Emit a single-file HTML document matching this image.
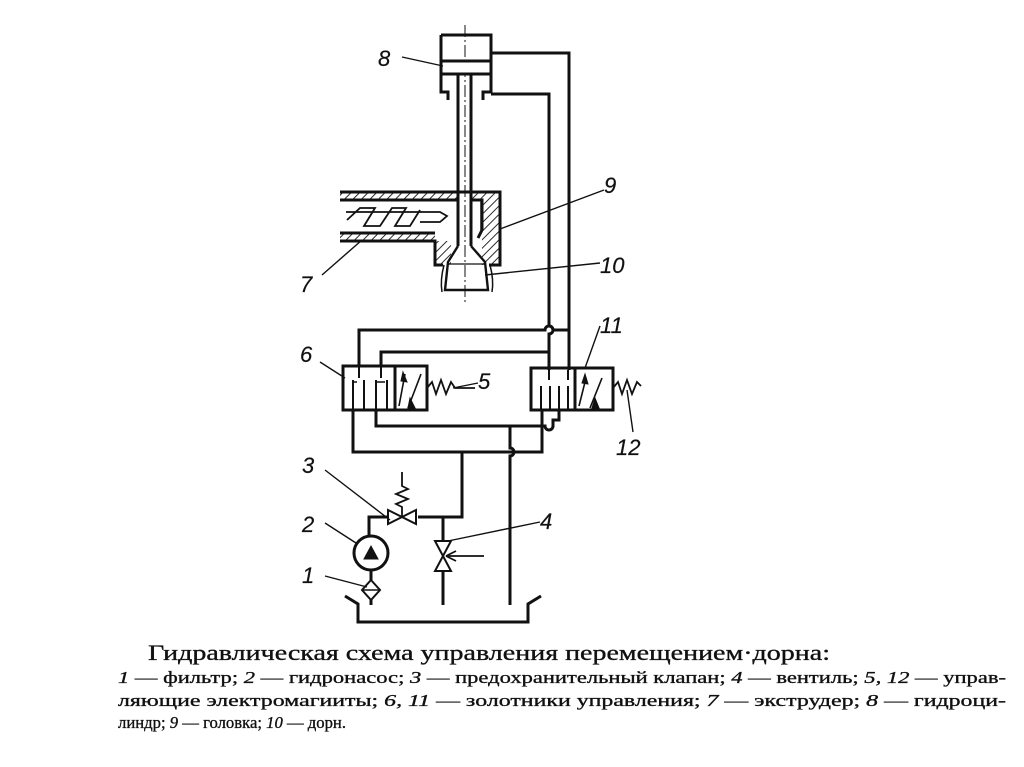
<!DOCTYPE html>
<html><head><meta charset="utf-8"><style>
html,body{margin:0;padding:0;background:#fff;}
svg{display:block}
text{font-family:"Liberation Serif",serif;fill:#111;stroke:#111;stroke-width:0.35}
.n text{font-family:"Liberation Sans",sans-serif;font-style:italic;font-size:22px;stroke-width:0.2}
</style></head><body>
<svg width="1024" height="767" viewBox="0 0 1024 767" xmlns="http://www.w3.org/2000/svg">
<defs>
<pattern id="h" width="6" height="6" patternUnits="userSpaceOnUse" patternTransform="rotate(45)">
<line x1="0" y1="0" x2="0" y2="6" stroke="#111" stroke-width="1.8"/>
</pattern>
</defs>
<g stroke="#111" stroke-width="3" fill="none">
<line x1="465" y1="25" x2="465" y2="305" stroke-width="1" stroke-dasharray="12,3,2,3"/>
<path d="M441 35 H491 V92 H483 V100 M441 35 V92 H448 V100"/>
<rect x="441" y="61" width="50" height="13" fill="#fff"/>
<line x1="458" y1="74" x2="458" y2="246"/>
<line x1="471" y1="74" x2="471" y2="246"/>
<path d="M491 53 H569 V370"/>
<path d="M491 94 H549 V326 a4 4 0 0 1 0 8 V370"/>
<rect x="340" y="192" width="118" height="8" fill="url(#h)" stroke="none"/>
<rect x="471" y="192" width="29" height="8" fill="url(#h)" stroke="none"/>
<rect x="340" y="233" width="95" height="8" fill="url(#h)" stroke="none"/>
<rect x="482" y="200" width="18" height="65" fill="url(#h)" stroke="none"/>
<rect x="435" y="241" width="16" height="24" fill="url(#h)" stroke="none"/>
<path d="M340 192 H500 V265 H489 M340 200 H458 M471 200 H482 V230 L478 238 M340 233 H435 M340 241 H435 V265 H443"/>
<path d="M481 200 V230" stroke-width="1.5"/>
<path d="M347 220 L360 208 L375 208 L364 226 L380 226 L392 208 L406 208 L395 226 L410 226 L420 210 M346 212 H440 L447 216 L440 222 H420" stroke-width="1.8"/>
<path d="M458 246 L448 262 L445 290 H488 L485 262 L471 246" stroke-width="2.4"/>
<path d="M444 265 Q440 280 442 292 M490 265 Q494 280 492 292" stroke-width="1.5"/>
<line x1="448" y1="264" x2="485" y2="264" stroke-width="1.2"/>
<rect x="343" y="366" width="84" height="44"/>
<line x1="395" y1="366" x2="395" y2="410"/>
<path d="M353 380 V410 M364 380 V410 M376 380 V410 M387 380 V410 M359 366 V378 M381 366 V378" stroke-width="2"/>
<path d="M353 382 H357 M377 382 H385" stroke-width="1.5"/>
<path d="M399 406 L405 374 M408 408 L421 374" stroke-width="1.6"/>
<path d="M403 372 L407 382 L401 381Z M410 398 L415 408 L408 408Z" fill="#111" stroke-width="1"/>
<path d="M427 388 L432 382 L436 394 L441 380 L446 394 L451 382 L455 388 H475" stroke-width="1.8"/>
<rect x="531" y="368" width="82" height="42"/>
<line x1="575" y1="368" x2="575" y2="410"/>
<path d="M541 386 V410 M550 386 V410 M559 386 V410 M568 386 V410 M549 370 V380 M568 370 V380" stroke-width="2"/>
<path d="M579 406 L586 378 M590 408 L602 378" stroke-width="1.6"/>
<path d="M585 374 L588 384 L582 383Z M595 398 L599 408 L592 408Z" fill="#111" stroke-width="1"/>
<path d="M613 388 L618 382 L622 394 L627 380 L632 394 L637 382 L641 386" stroke-width="1.8"/>
<path d="M359 366 V330 H545 a4 4 0 0 1 8 0 H569" />
<path d="M381 366 V352 H549"/>
<path d="M353 410 V452 H542 V410"/>
<path d="M376 410 V426 H510 V448 a4 4 0 0 1 0 8 V605"/>
<path d="M559 410 V420 H553 V426 a4 4 0 0 1 -8 0 H510"/>
<path d="M462 452 V517 H418"/>
<path d="M388 517 H369 V536"/>
<circle cx="371" cy="553" r="17"/>
<path d="M364 559 L371 546 L378 559Z" fill="#111" stroke-width="1"/>
<path d="M371 570 V580 M371 600 V605"/>
<path d="M371 580 L380 590 L371 600 L362 590Z" stroke-width="2"/>
<line x1="362" y1="590" x2="380" y2="590" stroke-width="1.5"/>
<path d="M388 510 L402 517 L388 524Z M416 510 L402 517 L416 524Z" stroke-width="2"/>
<path d="M402 517 V507 L396 504 L408 499 L396 494 L408 489 L402 486 V472" stroke-width="1.8"/>
<path d="M443 517 V541 M443 572 V605"/>
<path d="M435 541 H451 L443 556 L435 571 H451 L443 556Z" stroke-width="2"/>
<path d="M446 556 H484" stroke-width="1.8"/>
<path d="M446 556 L456 551 M446 556 L456 561" stroke-width="1.8"/>
<path d="M345 596 L358 604 V622 H528 V604 L541 596"/>
<g stroke-width="1.4">
<line x1="402" y1="57" x2="443" y2="66"/>
<line x1="604" y1="190" x2="500" y2="229"/>
<line x1="600" y1="263" x2="485" y2="275"/>
<line x1="322" y1="275" x2="362" y2="240"/>
<line x1="320" y1="362" x2="345" y2="378"/>
<line x1="453" y1="388" x2="478" y2="383"/>
<line x1="600" y1="326" x2="585" y2="368"/>
<line x1="627" y1="390" x2="633" y2="432"/>
<line x1="325" y1="470" x2="390" y2="520"/>
<line x1="325" y1="523" x2="356" y2="543"/>
<line x1="325" y1="576" x2="367" y2="587"/>
<line x1="540" y1="522" x2="448" y2="541"/>
</g>
</g>
<g class="n">
<text x="378" y="66">8</text>
<text x="604" y="193">9</text>
<text x="600" y="273">10</text>
<text x="300" y="292">7</text>
<text x="300" y="362">6</text>
<text x="478" y="389">5</text>
<text x="600" y="333">11</text>
<text x="616" y="455">12</text>
<text x="302" y="473">3</text>
<text x="302" y="532">2</text>
<text x="302" y="583">1</text>
<text x="540" y="529">4</text>
</g>
<text x="148" y="660" font-size="22" textLength="682" lengthAdjust="spacingAndGlyphs">Гидравлическая схема управления перемещением·дорна:</text>
<text x="118" y="683" font-size="17" textLength="888" lengthAdjust="spacingAndGlyphs"><tspan font-style="italic">1</tspan> — фильтр;  <tspan font-style="italic">2</tspan> — гидронасос;  <tspan font-style="italic">3</tspan> — предохранительный  клапан;  <tspan font-style="italic">4</tspan> — вентиль;  <tspan font-style="italic">5,  12</tspan> — управ-</text>
<text x="118" y="706" font-size="17" textLength="888" lengthAdjust="spacingAndGlyphs">ляющие электромагииты;   <tspan font-style="italic">6,  11</tspan> — золотники  управления;   <tspan font-style="italic">7</tspan> — экструдер;   <tspan font-style="italic">8</tspan> — гидроци-</text>
<text x="118" y="728" font-size="17" textLength="228" lengthAdjust="spacingAndGlyphs">линдр; <tspan font-style="italic">9</tspan> — головка; <tspan font-style="italic">10</tspan> — дорн.</text>
</svg>
</body></html>
